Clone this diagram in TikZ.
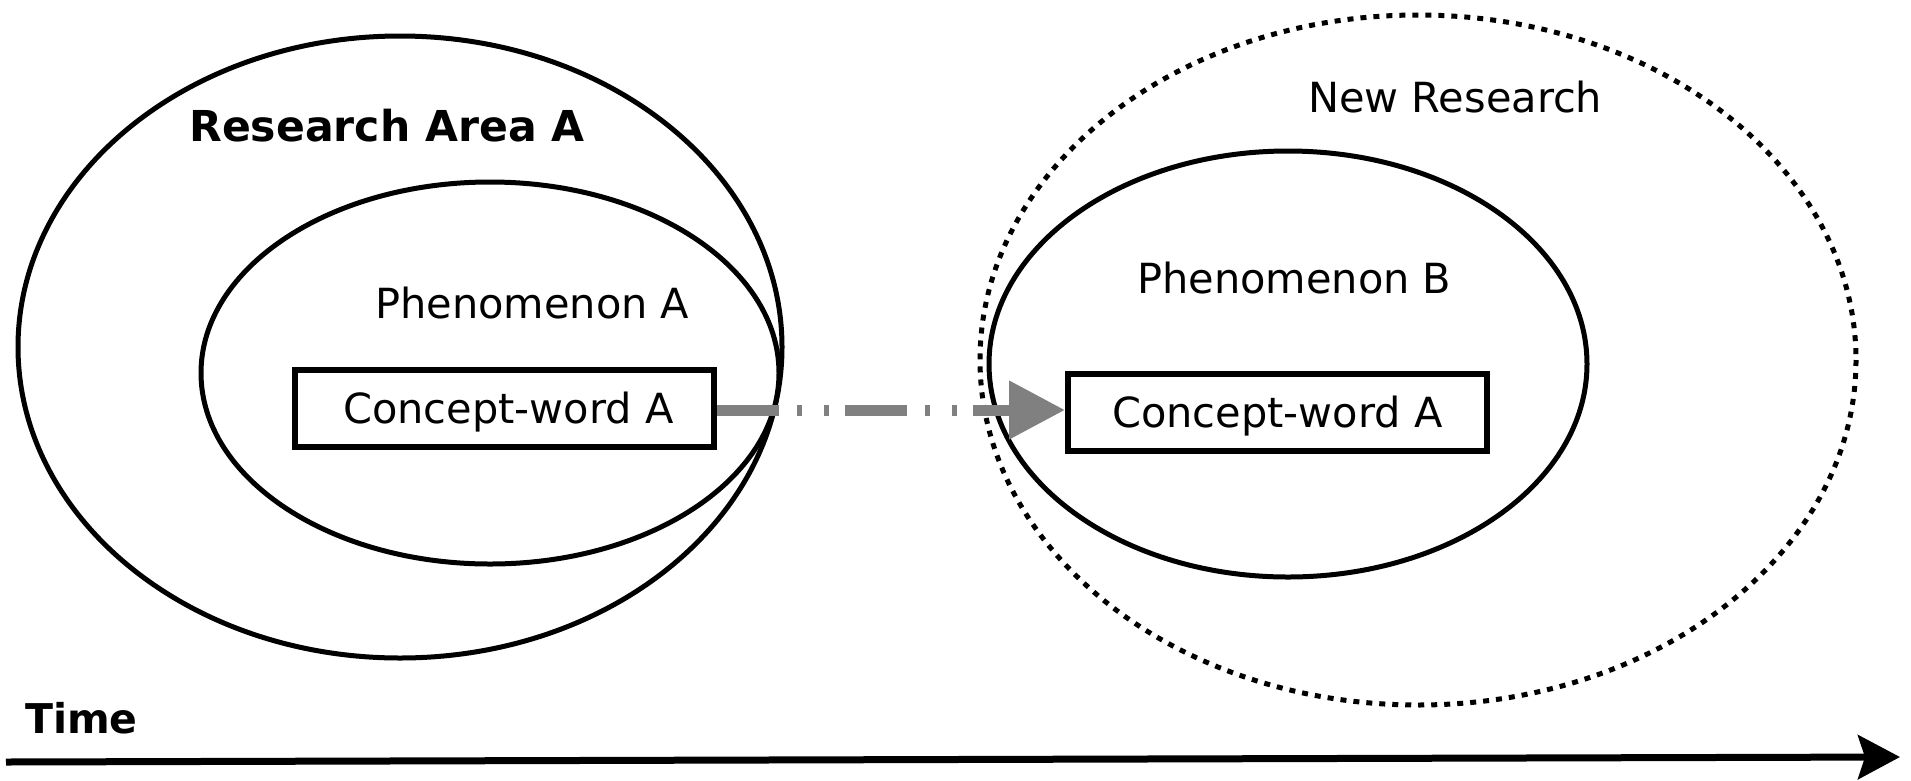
\documentclass[tikz,border=0pt]{standalone}
\usepackage{fontspec}
\setmainfont{DejaVu Sans}
\usetikzlibrary{arrows.meta}
\definecolor{arrowgray}{RGB}{128,128,128}
\tikzset{
  ring/.style={draw=black, line width=5pt},
  dotring/.style={draw=black, line width=5pt, dash pattern=on 6pt off 7pt},
  conceptbox/.style={draw=black, line width=6pt, minimum width=419pt, minimum height=77pt, inner sep=0pt},
  lbl/.style={anchor=base west, inner sep=0pt, font=\fontsize{41.5}{48}\selectfont},
  boldlbl/.style={anchor=base west, inner sep=0pt, font=\fontsize{42.6}{48}\selectfont\bfseries},
}
\begin{document}
\begin{tikzpicture}[x=1pt, y=-1pt]
\useasboundingbox (0,0) rectangle (1911,780);
% left research area
\draw[ring] (400,347) ellipse [x radius=382, y radius=311];
\draw[ring] (490,373) ellipse [x radius=289, y radius=191];
% right new research
\draw[dotring] (1418,360) ellipse [x radius=438, y radius=345];
\draw[ring] (1288,364) ellipse [x radius=299, y radius=213];
% labels
\node[boldlbl] (ra) at (189,141) {Research Area A};
\node[lbl] (pa) at (375,318) {Phenomenon A};
\node[lbl] (nr) at (1308,112) {New Research};
\node[lbl] (pb) at (1137,293) {Phenomenon B};
% boxes
\node[conceptbox] (ca) at (504.5,408.5) {};
\node[lbl] (cat) at (343,423) {Concept-word A};
\node[conceptbox] (cb) at (1277.5,412.5) {};
\node[lbl] (cbt) at (1112,427) {Concept-word A};
% transfer arrow
\draw[draw=arrowgray, line width=11pt, dash pattern=on 62pt off 18pt on 5pt off 22pt on 5pt off 16pt,
      -{Triangle[length=56pt, width=56pt, fill=arrowgray, color=arrowgray]}]
      ([yshift=-1.5pt]ca.east) -- ([yshift=2.5pt]cb.west);
% time axis
\node[boldlbl, font=\fontsize{41}{48}\selectfont\bfseries] (time) at (25,733) {Time};
\coordinate (t0) at (6,762);
\coordinate (t1) at (1900,757);
\draw[line width=7pt, -{Stealth[length=42pt, width=44pt, inset=7pt]}] (t0) -- (t1);
\end{tikzpicture}
\end{document}
